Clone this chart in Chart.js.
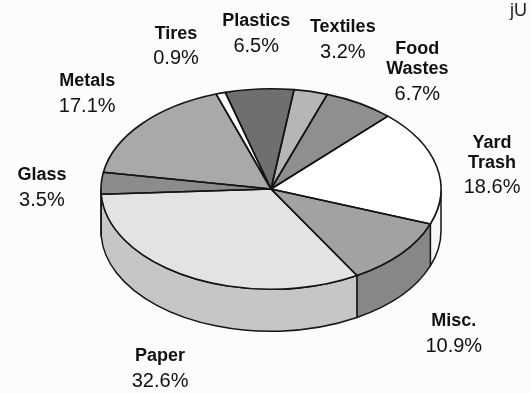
<!DOCTYPE html>
<html>
<head>
<meta charset="utf-8">
<script src="https://cdn.jsdelivr.net/npm/chart.js@4.4.1/dist/chart.umd.min.js"></script>
<style>
  html, body { margin: 0; padding: 0; background: #fbfcfc; }
  #wrap { position: relative; width: 531px; height: 393px; }
  #corner { position: absolute; right: 4px; top: 0px; font: 18px "Liberation Sans", Arial, sans-serif; color: #222; }
</style>
</head>
<body>
<div id="wrap">
  <canvas id="chart" width="531" height="393"></canvas>
  <span id="corner">jU</span>
</div>
<script>
// slices go clockwise, starting just below 9 o'clock
const categories = [['Glass'], ['Metals'], ['Tires'], ['Plastics'], ['Textiles'], ['Food', 'Wastes'], ['Yard', 'Trash'], ['Misc.'], ['Paper']];
const shares = [3.5, 17.1, 0.9, 6.5, 3.2, 6.7, 18.6, 10.9, 32.6];

// grey shades of the top face and of the rim
const topColors = ['#8c8c8c', '#a9a9a9', '#ffffff', '#6f6f6f', '#b6b6b6', '#8f8f8f', '#ffffff', '#a2a2a2', '#e3e3e3'];
const sideColors = ['#7a7a7a', '#969696', '#eeeeee', '#5e5e5e', '#a0a0a0', '#7c7c7c', '#f6f6f6', '#878787', '#c6c6c6'];

// label block nudge from its radial anchor [dx, dy]
const labelNudge = [[17, 7], [4, -1], [-22, -4], [2, -10], [14, -8], [18, 7], [-19, 9], [-6, 9], [6, 10]];

const tilt = 0.59;   // vertical squash of the disc
const depth = 42;    // rim height in px
const lineColor = '#151515';

function strokeFlat(ctx, width) {
  // stroke the current path without the vertical squash on line width
  ctx.save();
  ctx.setTransform(1, 0, 0, 1, 0, 0);
  ctx.lineWidth = width;
  ctx.strokeStyle = lineColor;
  ctx.lineJoin = 'round';
  ctx.stroke();
  ctx.restore();
}

const pie3d = {
  id: 'pie3d',
  beforeDatasetsDraw(chart) {
    const ctx = chart.ctx;
    const arcs = chart.getDatasetMeta(0).data;
    const cx = arcs[0].x, cy = arcs[0].y, r = arcs[0].outerRadius;
    const d = depth / tilt;
    const TAU = Math.PI * 2;
    ctx.save();
    ctx.translate(cx, cy);
    ctx.scale(1, tilt);
    ctx.translate(-cx, -cy);
    // rim: only the front half (0..PI) is visible
    arcs.forEach((arc, i) => {
      const off = Math.floor(arc.startAngle / TAU) * TAU;
      const a1 = arc.startAngle - off, a2 = arc.endAngle - off;
      [[0, Math.PI], [TAU, TAU + Math.PI]].forEach(([lo, hi]) => {
        const s = Math.max(a1, lo), e = Math.min(a2, hi);
        if (e <= s) return;
        ctx.beginPath();
        ctx.arc(cx, cy, r, s, e);
        ctx.arc(cx, cy + d, r, e, s, true);
        ctx.closePath();
        ctx.fillStyle = sideColors[i];
        ctx.fill();
        strokeFlat(ctx, 1.5);
      });
    });
  },
  afterDatasetsDraw(chart) {
    const ctx = chart.ctx;
    const arcs = chart.getDatasetMeta(0).data;
    arcs.forEach(arc => {
      ctx.beginPath();
      ctx.moveTo(arc.x, arc.y);
      ctx.arc(arc.x, arc.y, arc.outerRadius, arc.startAngle, arc.endAngle);
      ctx.closePath();
      strokeFlat(ctx, 1.6);
    });
    ctx.restore();
  },
  afterDraw(chart) {
    const ctx = chart.ctx;
    const arcs = chart.getDatasetMeta(0).data;
    ctx.save();
    ctx.fillStyle = '#111';
    ctx.textAlign = 'center';
    ctx.textBaseline = 'middle';
    arcs.forEach((arc, i) => {
      const m = (arc.startAngle + arc.endAngle) / 2;
      const r = arc.outerRadius * 1.45;
      const x = arc.x + Math.cos(m) * r + labelNudge[i][0];
      let y = arc.y + Math.sin(m) * r * tilt + labelNudge[i][1];
      if (Math.sin(m) > 0) y += depth;
      const lines = categories[i];
      const blockH = (lines.length - 1) * 20 + 25;
      let ly = y - blockH / 2;
      ctx.font = 'bold 18px "Liberation Sans", Arial, sans-serif';
      lines.forEach(t => { ctx.fillText(t, x, ly); ly += 20; });
      ly += 5;
      ctx.font = '20px "Liberation Sans", Arial, sans-serif';
      ctx.fillText(shares[i].toFixed(1) + '%', x, ly);
    });
    ctx.restore();
  }
};

new Chart(document.getElementById('chart'), {
  type: 'pie',
  data: {
    labels: categories.map(c => c.join(' ')),
    datasets: [{
      data: shares,
      backgroundColor: topColors,
      borderWidth: 0
    }]
  },
  options: {
    responsive: false,
    animation: false,
    rotation: 267,
    radius: 170,
    layout: { padding: { left: 11, right: 0, top: 0, bottom: 15 } },
    plugins: {
      legend: { display: false },
      tooltip: { enabled: false }
    }
  },
  plugins: [pie3d]
});
</script>
</body>
</html>
